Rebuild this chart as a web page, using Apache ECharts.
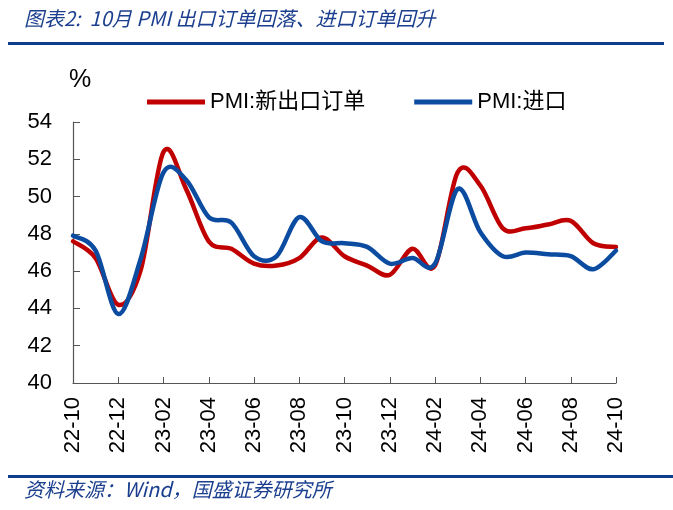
<!DOCTYPE html>
<html>
<head>
<meta charset="utf-8">
<script src="https://cdn.jsdelivr.net/npm/echarts@6/dist/echarts.min.js"></script>
<style>
html,body{margin:0;padding:0;background:#fff;}
#chart{width:673px;height:510px;}
</style>
</head>
<body>
<div id="chart"></div>
<script>
var categories = ['22-10','22-11','22-12','23-01','23-02','23-03','23-04','23-05','23-06','23-07','23-08','23-09','23-10','23-11','23-12','24-01','24-02','24-03','24-04','24-05','24-06','24-07','24-08','24-09','24-10'];
var exportOrders = [47.6,46.7,44.2,46.1,52.4,50.4,47.6,47.2,46.4,46.3,46.7,47.8,46.8,46.3,45.8,47.2,46.3,51.3,50.6,48.3,48.3,48.5,48.7,47.5,47.3];
var imports = [47.9,47.1,43.7,46.7,51.3,50.9,48.9,48.6,46.8,46.8,48.9,47.6,47.5,47.3,46.4,46.7,46.4,50.4,48.1,46.8,47.0,46.9,46.8,46.1,47.1];
var seriesNames = ['PMI:新出口订单','PMI:进口'];
var yTicks = {min:40, max:54, step:2};

var titleColor = '#1B3F8E';
var axisColor = '#555555';
var labelFont = 'Liberation Sans';
var redColor = '#C00000';
var blueColor = '#0B4CA1';

// Excel-like smoothed line: cubic Bezier through every point, control points from neighbours
function smoothRenderer(values, color) {
  return function (params, api) {
    if (params.dataIndex !== 0) return null;
    var n = values.length;
    var pts = [];
    for (var i = 0; i < n; i++) pts.push(api.coord([i, values[i]]));
    var d = 'M' + pts[0][0] + ' ' + pts[0][1];
    for (var j = 0; j < n - 1; j++) {
      var p0 = pts[Math.max(j - 1, 0)], p1 = pts[j], p2 = pts[j + 1], p3 = pts[Math.min(j + 2, n - 1)];
      var c1x = p1[0] + (p2[0] - p0[0]) / 6, c1y = p1[1] + (p2[1] - p0[1]) / 6;
      var c2x = p2[0] - (p3[0] - p1[0]) / 6, c2y = p2[1] - (p3[1] - p1[1]) / 6;
      d += ' C' + c1x + ' ' + c1y + ' ' + c2x + ' ' + c2y + ' ' + p2[0] + ' ' + p2[1];
    }
    return {
      type: 'path',
      shape: {pathData: d},
      style: {stroke: color, lineWidth: 4.5, fill: null, lineJoin: 'round', lineCap: 'round'}
    };
  };
}
function toPairs(values) { return values.map(function (v, i) { return [i, v]; }); }

var chart = echarts.init(document.getElementById('chart'), null, {renderer:'canvas'});
chart.setOption({
  animation:false,
  backgroundColor:'#ffffff',
  grid:{left:73, right:57, top:122, bottom:127, containLabel:false, outerBoundsMode:'none'},
  legend:{
    data:seriesNames,
    left:142, top:86,
    itemWidth:58, itemHeight:5, itemGap:49,
    icon:'rect',
    textStyle:{fontSize:22, color:'#000', fontFamily:'Liberation Sans, Noto Sans CJK SC'}
  },
  xAxis:{
    type:'category', data:categories, boundaryGap:false,
    axisLine:{lineStyle:{color:axisColor, width:1.2}},
    axisTick:{inside:true, length:6, interval:1, lineStyle:{color:axisColor}},
    axisLabel:{interval:1, rotate:90, margin:14, fontSize:22, color:'#000', fontFamily:labelFont},
    splitLine:{show:false}
  },
  yAxis:{
    type:'value', min:yTicks.min, max:yTicks.max, interval:yTicks.step,
    axisLine:{show:true, lineStyle:{color:axisColor, width:1.2}},
    axisTick:{show:true, inside:true, length:7, lineStyle:{color:axisColor}},
    axisLabel:{margin:21, fontSize:22, color:'#000', fontFamily:labelFont},
    splitLine:{show:false}
  },
  series:[
    {name:seriesNames[0], type:'custom', data:toPairs(exportOrders), renderItem:smoothRenderer(exportOrders, redColor),
     itemStyle:{color:redColor}, encode:{x:0, y:1}},
    {name:seriesNames[1], type:'custom', data:toPairs(imports), renderItem:smoothRenderer(imports, blueColor),
     itemStyle:{color:blueColor}, encode:{x:0, y:1}}
  ],
  graphic:[
    {type:'text', left:24, top:8, style:{text:'图表2:  10月 PMI 出口订单回落、进口订单回升', fill:titleColor, font:'italic 20px "Noto Sans CJK SC", sans-serif'}},
    {type:'rect', shape:{x:8, y:42, width:656, height:3}, style:{fill:'#0E3F8E'}},
    {type:'text', left:69, top:68, style:{text:'%', fill:'#000', font:'25px "Liberation Sans", sans-serif'}},
    {type:'rect', shape:{x:8, y:475, width:665, height:3}, style:{fill:'#0E3F8E'}},
    {type:'text', left:24, top:479, style:{text:'资料来源：Wind，国盛证券研究所', fill:titleColor, font:'italic 20px "Noto Sans CJK SC", sans-serif'}}
  ]
});
</script>
</body>
</html>
